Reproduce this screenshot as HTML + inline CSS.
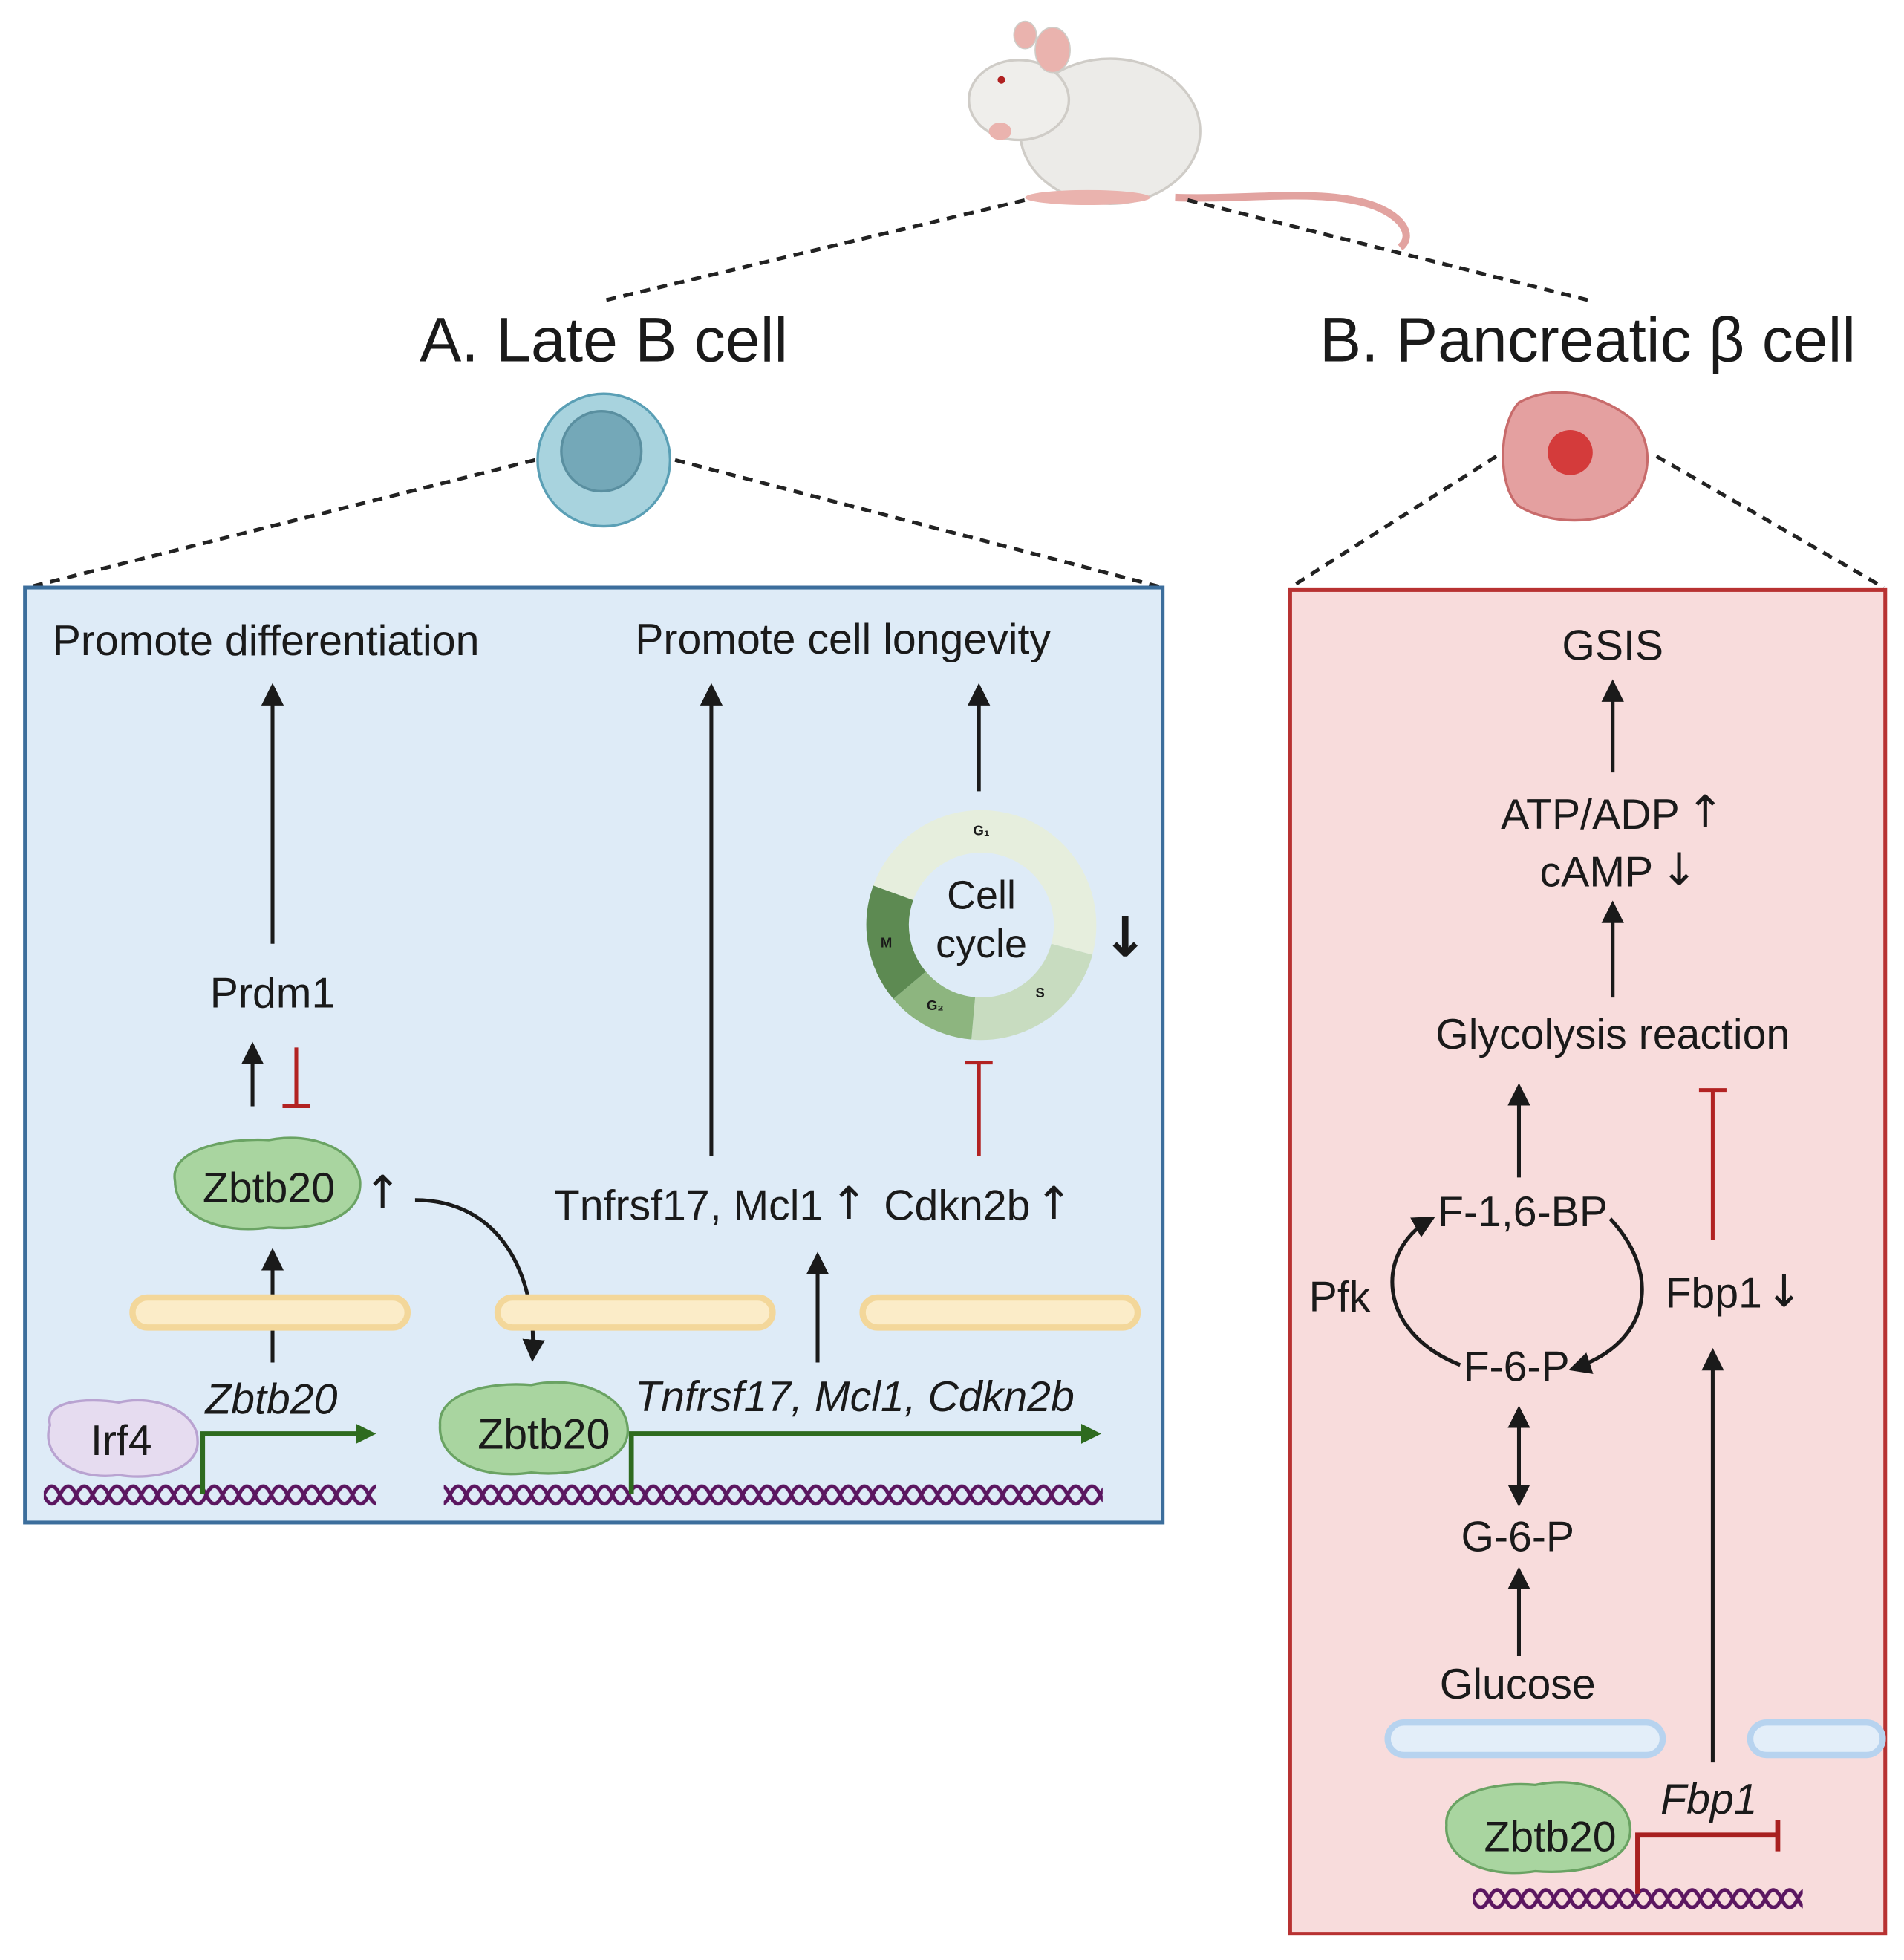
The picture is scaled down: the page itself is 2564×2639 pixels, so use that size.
<!DOCTYPE html>
<html><head><meta charset="utf-8"><style>
html,body{margin:0;padding:0;background:#fff;}
svg{display:block}
text{font-family:"Liberation Sans",sans-serif;fill:#1a1a1a}
.ar{font-family:"DejaVu Sans",sans-serif}
</style></head><body>
<svg width="2564" height="2639" viewBox="0 0 1523 1568" preserveAspectRatio="none" xmlns="http://www.w3.org/2000/svg">
<defs>
<marker id="ah" viewBox="0 0 10 10" refX="8" refY="5" markerWidth="6" markerHeight="6" orient="auto-start-reverse"><path d="M0,0 L10,5 L0,10 z" fill="#1a1a1a"/></marker>
<marker id="ahg" viewBox="0 0 10 10" refX="2" refY="5" markerWidth="4" markerHeight="4" orient="auto"><path d="M0,0 L10,5 L0,10 z" fill="#2e6b1f"/></marker>
<pattern id="dnaA" width="26" height="24" patternUnits="userSpaceOnUse" x="35" y="1184">
<path d="M0 12 Q6.5 -2 13 12 T26 12" fill="none" stroke="#5b1660" stroke-width="3"/>
<path d="M0 12 Q6.5 26 13 12 T26 12" fill="none" stroke="#5b1660" stroke-width="3"/>
</pattern>
<pattern id="dnaB" width="26" height="24" patternUnits="userSpaceOnUse" x="1178" y="1507">
<path d="M0 12 Q6.5 -2 13 12 T26 12" fill="none" stroke="#5b1660" stroke-width="3"/>
<path d="M0 12 Q6.5 26 13 12 T26 12" fill="none" stroke="#5b1660" stroke-width="3"/>
</pattern>
</defs>

<!-- mouse -->
<path d="M940 158 C1000 160 1060 150 1100 165 C1125 175 1130 190 1120 198" fill="none" stroke="#e2a3a0" stroke-width="6"/>
<ellipse cx="888" cy="105" rx="72" ry="58" fill="#ecebe8" stroke="#cfccc7" stroke-width="2"/>
<ellipse cx="815" cy="80" rx="40" ry="32" fill="#efeeeb" stroke="#cfccc7" stroke-width="2"/>
<ellipse cx="842" cy="40" rx="14" ry="18" fill="#eab3ae" stroke="#cfccc7"/>
<ellipse cx="820" cy="28" rx="9" ry="11" fill="#eab3ae" stroke="#cfccc7"/>
<circle cx="801" cy="64" r="3" fill="#b02020"/>
<ellipse cx="800" cy="105" rx="9" ry="7" fill="#eab3ae"/>
<ellipse cx="870" cy="158" rx="50" ry="6" fill="#eab3ae"/>

<!-- dashed lines -->
<g stroke="#222" stroke-width="3" stroke-dasharray="8,6" fill="none">
<line x1="485" y1="240" x2="820" y2="160"/>
<line x1="950" y1="160" x2="1270" y2="240"/>
<line x1="428" y1="368" x2="22" y2="470"/>
<line x1="540" y1="368" x2="930" y2="470"/>
<line x1="1197" y1="365" x2="1032" y2="470"/>
<line x1="1325" y1="365" x2="1507" y2="470"/>
</g>

<text x="483" y="289" font-size="50" text-anchor="middle">A. Late B cell</text>
<text x="1270" y="289" font-size="50" text-anchor="middle">B. Pancreatic β cell</text>

<circle cx="483" cy="368" r="53" fill="#a8d3de" stroke="#5a9fb5" stroke-width="2"/>
<circle cx="481" cy="361" r="32" fill="#74a8b8" stroke="#5a8fa0" stroke-width="2"/>

<path d="M1215 322 C1240 308 1275 312 1305 335 C1325 355 1320 390 1300 405 C1280 420 1240 420 1215 405 C1198 390 1198 340 1215 322 Z" fill="#e4a0a0" stroke="#c86b6b" stroke-width="2"/>
<circle cx="1256" cy="362" r="18" fill="#d43b3b"/>

<!-- Box A -->
<rect x="20" y="470" width="910" height="748" fill="#deebf7" stroke="#3c6e9c" stroke-width="3"/>
<text x="42" y="524" font-size="34">Promote differentiation</text>
<text x="508" y="523" font-size="34">Promote cell longevity</text>
<g stroke="#1a1a1a" stroke-width="3" fill="none" marker-end="url(#ah)">
<line x1="218" y1="755" x2="218" y2="550"/>
<line x1="569" y1="925" x2="569" y2="550"/>
<line x1="783" y1="633" x2="783" y2="550"/>
<line x1="202" y1="885" x2="202" y2="837"/>
<line x1="218" y1="1090" x2="218" y2="1002"/>
<line x1="654" y1="1090" x2="654" y2="1005"/>
<path d="M332 960 C400 960 430 1020 426 1086"/>
</g>
<g stroke="#b22222" stroke-width="3">
<line x1="237" y1="838" x2="237" y2="885"/><line x1="226" y1="885" x2="248" y2="885"/>
<line x1="783" y1="925" x2="783" y2="850"/><line x1="772" y1="850" x2="794" y2="850"/>
</g>
<!-- cell cycle -->
<g fill="none" stroke-width="34">
<path d="M714.5 714.3 A75 75 0 0 1 857.4 759.4" stroke="#e6eedd"/>
<path d="M857.4 759.4 A75 75 0 0 1 778.5 814.7" stroke="#c8dcc0"/>
<path d="M778.5 814.7 A75 75 0 0 1 727.6 788.2" stroke="#8db57f"/>
<path d="M727.6 788.2 A75 75 0 0 1 714.5 714.3" stroke="#5d8a52"/>
</g>
<text x="785" y="727" font-size="32" text-anchor="middle">Cell</text>
<text x="785" y="766" font-size="32" text-anchor="middle">cycle</text>
<text x="785" y="668" font-size="11" text-anchor="middle" font-weight="bold">G₁</text>
<text x="832" y="798" font-size="11" text-anchor="middle" font-weight="bold">S</text>
<text x="748" y="808" font-size="11" text-anchor="middle" font-weight="bold">G₂</text>
<text x="709" y="758" font-size="11" text-anchor="middle" font-weight="bold">M</text>
<text class="ar" x="900" y="765" font-size="44" text-anchor="middle" font-weight="bold">↓</text>

<text x="218" y="806" font-size="34" text-anchor="middle">Prdm1</text>
<path d="M140 945 C135 920 180 910 215 912 C250 905 285 920 288 945 C290 975 250 985 215 982 C175 988 140 972 140 945Z" fill="#a9d5a0" stroke="#6aa363" stroke-width="2"/>
<text x="215" y="962" font-size="34" text-anchor="middle">Zbtb20</text>
<text class="ar" x="306" y="966" font-size="36" text-anchor="middle">↑</text>
<text x="443" y="976" font-size="34">Tnfrsf17, Mcl1</text>
<text class="ar" x="679" y="975" font-size="36" text-anchor="middle">↑</text>
<text x="707" y="976" font-size="34">Cdkn2b</text>
<text class="ar" x="843" y="975" font-size="36" text-anchor="middle">↑</text>

<g fill="#fbecc8" stroke="#f3d79a" stroke-width="5">
<rect x="106" y="1038" width="220" height="24" rx="12"/>
<rect x="398" y="1038" width="220" height="24" rx="12"/>
<rect x="690" y="1038" width="220" height="24" rx="12"/>
</g>
<rect x="35" y="1184" width="266" height="24" fill="url(#dnaA)"/>
<rect x="355" y="1184" width="527" height="24" fill="url(#dnaA)"/>
<path d="M40 1140 C35 1120 70 1118 95 1122 C125 1115 158 1130 158 1152 C160 1175 125 1185 95 1180 C60 1185 32 1165 40 1140Z" fill="#e6dcf0" stroke="#b9a3d1" stroke-width="2"/>
<text x="97" y="1164" font-size="34" text-anchor="middle">Irf4</text>
<g stroke="#2e6b1f" stroke-width="4" fill="none">
<path d="M162 1195 L162 1147 L288 1147" marker-end="url(#ahg)"/>
<path d="M505 1195 L505 1147 L868 1147" marker-end="url(#ahg)"/>
</g>
<text x="217" y="1131" font-size="34" text-anchor="middle" font-style="italic">Zbtb20</text>
<text x="508" y="1129" font-size="34" font-style="italic">Tnfrsf17, Mcl1, Cdkn2b</text>
<path d="M352 1140 C350 1115 390 1105 425 1108 C460 1100 500 1115 502 1142 C505 1170 460 1182 425 1178 C385 1184 350 1168 352 1140Z" fill="#a9d5a0" stroke="#6aa363" stroke-width="2"/>
<text x="435" y="1159" font-size="34" text-anchor="middle">Zbtb20</text>

<!-- Box B -->
<rect x="1032" y="472" width="476" height="1075" fill="#f8dcdc" stroke="#b83232" stroke-width="3"/>
<text x="1290" y="528" font-size="34" text-anchor="middle">GSIS</text>
<text x="1272" y="663" font-size="34" text-anchor="middle">ATP/ADP</text>
<text class="ar" x="1364" y="662" font-size="36" text-anchor="middle">↑</text>
<text x="1277" y="709" font-size="34" text-anchor="middle">cAMP</text>
<text class="ar" x="1343" y="708" font-size="36" text-anchor="middle">↓</text>
<text x="1290" y="839" font-size="34" text-anchor="middle">Glycolysis reaction</text>
<text x="1218" y="981" font-size="34" text-anchor="middle">F-1,6-BP</text>
<text x="1213" y="1105" font-size="34" text-anchor="middle">F-6-P</text>
<text x="1047" y="1049" font-size="34">Pfk</text>
<text x="1332" y="1046" font-size="34">Fbp1</text>
<text class="ar" x="1427" y="1045" font-size="36" text-anchor="middle">↓</text>
<text x="1214" y="1241" font-size="34" text-anchor="middle">G-6-P</text>
<text x="1214" y="1359" font-size="34" text-anchor="middle">Glucose</text>
<text x="1367" y="1451" font-size="34" text-anchor="middle" font-style="italic">Fbp1</text>
<g stroke="#1a1a1a" stroke-width="3" fill="none" marker-end="url(#ah)">
<line x1="1290" y1="618" x2="1290" y2="547"/>
<line x1="1290" y1="798" x2="1290" y2="724"/>
<line x1="1215" y1="942" x2="1215" y2="870"/>
<line x1="1370" y1="1410" x2="1370" y2="1082"/>
<line x1="1215" y1="1128" x2="1215" y2="1202" marker-start="url(#ah)"/>
<line x1="1215" y1="1325" x2="1215" y2="1257"/>
<path d="M1168 1092 C1100 1065 1100 1000 1145 975"/>
<path d="M1288 975 C1330 1020 1320 1075 1258 1095"/>
</g>
<g stroke="#b22222" stroke-width="3">
<line x1="1370" y1="992" x2="1370" y2="872"/><line x1="1359" y1="872" x2="1381" y2="872"/>
</g>
<g fill="#e3eef9" stroke="#b7d3ef" stroke-width="5">
<rect x="1110" y="1378" width="220" height="26" rx="13"/>
<rect x="1400" y="1378" width="106" height="26" rx="13"/>
</g>
<rect x="1178" y="1507" width="264" height="24" fill="url(#dnaB)"/>
<path d="M1157 1460 C1155 1435 1195 1425 1228 1428 C1265 1420 1302 1435 1304 1462 C1306 1490 1265 1500 1228 1497 C1190 1503 1155 1488 1157 1460Z" fill="#a9d5a0" stroke="#6aa363" stroke-width="2"/>
<text x="1240" y="1481" font-size="34" text-anchor="middle">Zbtb20</text>
<g stroke="#a82020" stroke-width="4" fill="none">
<path d="M1310 1515 L1310 1468 L1422 1468"/>
<line x1="1422" y1="1456" x2="1422" y2="1481"/>
</g>
</svg>
</body></html>
